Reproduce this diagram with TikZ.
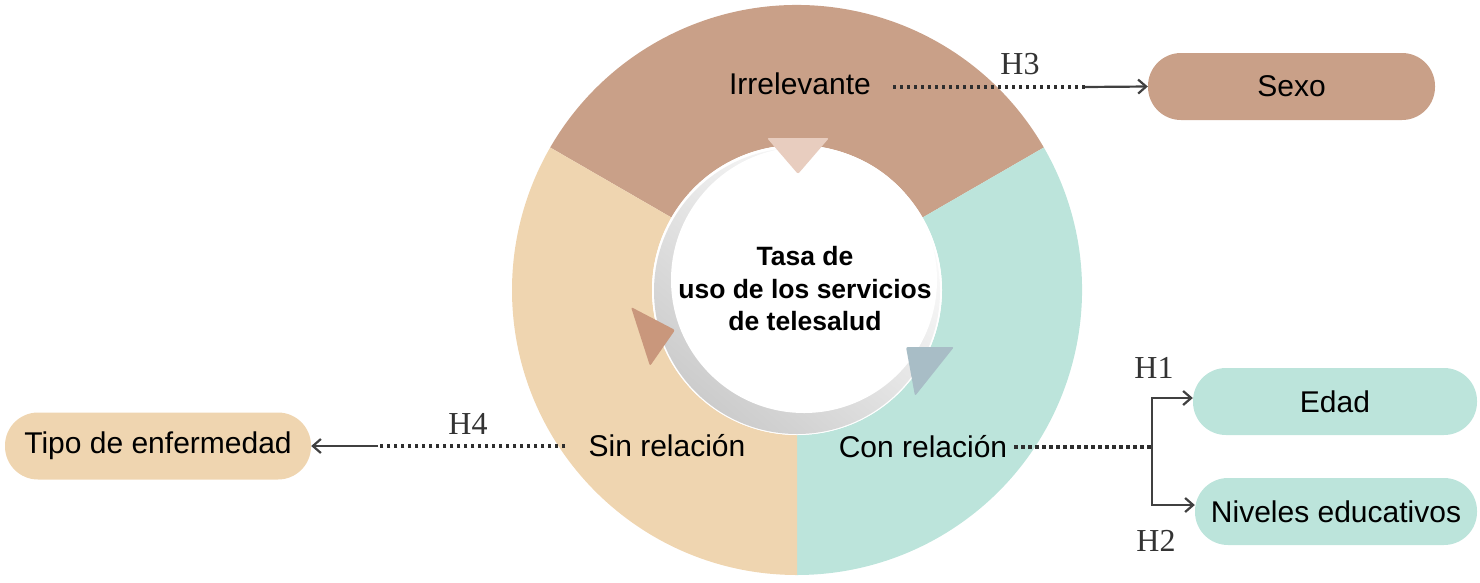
\documentclass[tikz,border=0pt]{standalone}
\usepackage{fontspec}
\setmainfont{Liberation Sans}
\newfontfamily\hfont{Liberation Serif}
\usetikzlibrary{arrows.meta,calc}
\definecolor{brownC}{HTML}{C9A088}
\definecolor{beigeC}{HTML}{EFD5B0}
\definecolor{tealC}{HTML}{BCE4DB}
\definecolor{triTop}{HTML}{E8CDBF}
\definecolor{triLeft}{HTML}{C9977C}
\definecolor{triRight}{HTML}{A8BDC6}
\definecolor{lineC}{HTML}{2E2E2E}
\begin{document}
\begin{tikzpicture}[x=1pt,y=-1pt,
  lbl/.style={font=\fontsize{30}{36}\selectfont, inner sep=0pt},
  pill/.style={rectangle, rounded corners=33pt, minimum height=67pt, inner sep=0pt, font=\fontsize{30}{36}\selectfont},
  hyp/.style={font=\hfont\fontsize{32}{38}\selectfont, text=black!80, inner sep=0pt},
  dots/.style={draw=lineC, line width=3.2pt, dash pattern=on 3.2pt off 3.8pt},
  arr/.style={draw=black!75, line width=2.2pt, -{Straight Barb[length=8pt,width=14pt]}},
  arrb/.style={draw=black!75, line width=2.2pt, {Straight Barb[length=8pt,width=14pt]}-{Straight Barb[length=8pt,width=14pt]}}
]
\useasboundingbox (0,0) rectangle (1480,582);
\coordinate (c) at (797,290);
% ring segments
\fill[brownC] ($(c)+(-30:285)$) arc[start angle=-30,end angle=-150,radius=285]
  -- ($(c)+(-150:145)$) arc[start angle=-150,end angle=-30,radius=145] -- cycle;
\fill[tealC] ($(c)+(-30:285)$) arc[start angle=-30,end angle=90,radius=285]
  -- ($(c)+(90:145)$) arc[start angle=90,end angle=-30,radius=145] -- cycle;
\fill[beigeC] ($(c)+(90:285)$) arc[start angle=90,end angle=210,radius=285]
  -- ($(c)+(210:145)$) arc[start angle=210,end angle=90,radius=145] -- cycle;
% inner circle with shadow
\fill[white] (c) circle (145);
\shade[top color=white, bottom color=black!20, shading angle=-40] (797,291) circle (143);
\fill[white] (804,280) circle (133);
% triangles
\fill[triTop, rounded corners=2pt] (767,138) -- (829,138) -- (798,174) -- cycle;
\fill[triLeft, rounded corners=2pt] (631,307) -- (675,330) -- (650,366) -- cycle;
\fill[triRight, rounded corners=2pt] (906,347) -- (954,347) -- (915,396) -- cycle;
% centre text
\node[align=center, font=\bfseries\fontsize{26.5}{32.5}\selectfont] (ctr) at (805,289)
  {Tasa de\\uso de los servicios\\de telesalud};
% labels
\node[lbl] (irr) at (800,84) {Irrelevante};
\node[lbl] (sin) at (667,446) {Sin relación};
\node[lbl] (con) at (923,447) {Con relación};
% boxes
\node[pill, fill=brownC, minimum width=287pt] (sexo) at (1291.5,86.5) {Sexo};
\node[pill, fill=beigeC, minimum width=306pt] (tipo) at (158,446) {Tipo de enfermedad};
\node[pill, fill=tealC, minimum width=284pt] (edad) at (1335,401.5) {Edad};
\node[pill, fill=tealC, minimum width=282pt] (niv) at (1336,511.5) {Niveles educativos};
% hypothesis labels
\node[hyp] (h3) at (1020,64) {H3};
\node[hyp] (h4) at (468,424) {H4};
\node[hyp] (h1) at (1154,368) {H1};
\node[hyp] (h2) at (1156,541) {H2};
% connectors
\coordinate (j3) at (1085,87);
\draw[dots, shorten <=22pt] (irr.east |- j3) -- (j3);
\draw[arr] (j3) -- (sexo.west);
\coordinate (j4) at (378,446);
\draw[dots, shorten <=23pt] (sin.west) -- (j4);
\draw[arr] (j4) -- (tipo.east);
\coordinate (jb) at (1152,447);
\draw[dots, shorten <=7pt] (con.east) -- (jb);
\coordinate (bt) at (1152,398);
\coordinate (bb) at (1152,505);
\draw[arrb] (bt -| edad.west) -- (bt) -- (bb) -- (bb -| niv.west);
\end{tikzpicture}
\end{document}
